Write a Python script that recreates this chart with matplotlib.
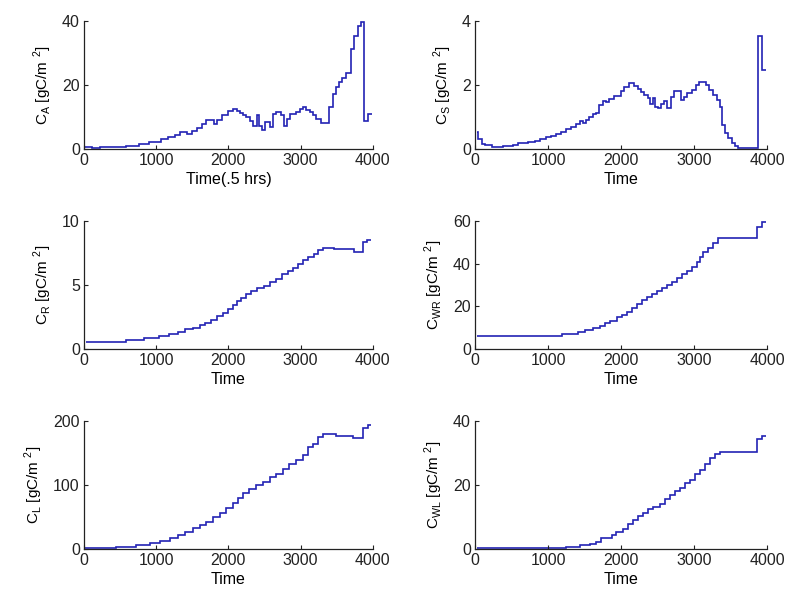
import numpy as np
import matplotlib
matplotlib.use("Agg")
import matplotlib.pyplot as plt

plt.rcParams['font.family'] = ['Liberation Sans', 'DejaVu Sans']
plt.rcParams['mathtext.fontset'] = 'custom'
plt.rcParams['mathtext.rm'] = 'Liberation Sans'

# step data: edges (time) and values between edges
ca_t = [0, 108, 225, 577, 765, 906, 1070, 1164, 1258, 1330, 1420, 1490, 1560, 1630, 1690,
        1800, 1845, 1915, 2000, 2070, 2115, 2160, 2205, 2250, 2300, 2345, 2390, 2420, 2460,
        2505, 2575, 2620, 2665, 2735, 2770, 2815, 2850, 2940, 2986, 3032, 3078, 3124, 3170,
        3215, 3284, 3400, 3445, 3490, 3535, 3580, 3628, 3697, 3743, 3789, 3835, 3881, 3940, 3986]
ca_v = [0.7, 0.2, 0.7, 1.0, 1.5, 2.3, 3.0, 3.6, 4.4, 5.3, 4.8, 5.7, 6.6, 7.9, 9.2,
        7.9, 9.2, 10.5, 12.0, 12.6, 12.0, 11.2, 10.5, 10.0, 8.9, 7.3, 10.5, 7.3, 5.8,
        8.4, 6.8, 11.0, 11.5, 10.5, 7.3, 9.4, 11.0, 11.5, 12.4, 13.0, 12.3, 11.5, 10.5,
        9.4, 8.2, 13.1, 17.3, 19.4, 21.0, 22.2, 23.9, 31.4, 35.4, 38.5, 39.6, 8.6, 11.0]

cs_t = [30, 45, 90, 136, 227, 386, 523, 590, 727, 818, 886, 977, 1045, 1114, 1182, 1250,
        1318, 1386, 1432, 1477, 1523, 1568, 1614, 1660, 1705, 1750, 1795, 1840, 1909, 2000,
        2045, 2114, 2182, 2227, 2273, 2318, 2364, 2395, 2432, 2468, 2500, 2545, 2591, 2636,
        2682, 2727, 2818, 2864, 2909, 2968, 3023, 3068, 3114, 3159, 3205, 3264, 3309, 3355,
        3386, 3423, 3468, 3514, 3559, 3605, 3877, 3932, 3990]
cs_v = [0.53, 0.3, 0.16, 0.13, 0.05, 0.1, 0.13, 0.18, 0.21, 0.26, 0.32, 0.37, 0.42, 0.47,
        0.53, 0.61, 0.68, 0.79, 0.86, 0.82, 0.92, 1.0, 1.1, 1.13, 1.37, 1.5, 1.48, 1.55, 1.67,
        1.81, 1.95, 2.05, 1.98, 1.87, 1.77, 1.69, 1.58, 1.4, 1.58, 1.32, 1.27, 1.4, 1.5, 1.27,
        1.63, 1.81, 1.53, 1.63, 1.74, 1.84, 2.0, 2.1, 2.08, 2.0, 1.84, 1.69, 1.53, 1.3,
        0.75, 0.49, 0.33, 0.18, 0.09, 0.02, 3.54, 2.47]

cr_t = [30, 582, 832, 1036, 1173, 1309, 1400, 1514, 1600, 1680, 1760, 1840, 1920, 2000,
        2060, 2120, 2180, 2240, 2320, 2400, 2490, 2580, 2660, 2740, 2820, 2900, 2960, 3040,
        3100, 3180, 3240, 3309, 3468, 3740, 3870, 3920, 3980]
cr_v = [0.57, 0.68, 0.83, 0.99, 1.2, 1.35, 1.56, 1.62, 1.85, 2.05, 2.3, 2.6, 2.85,
        3.1, 3.4, 3.75, 4.0, 4.3, 4.55, 4.75, 4.95, 5.2, 5.5, 5.85, 6.1, 6.35, 6.65,
        6.95, 7.2, 7.45, 7.7, 7.9, 7.8, 7.6, 8.35, 8.55]

cwr_t = [30, 1187, 1416, 1507, 1621, 1712, 1781, 1850, 1940, 2010, 2078, 2146, 2215, 2283,
         2352, 2420, 2489, 2557, 2626, 2694, 2763, 2831, 2900, 2968, 3037, 3082, 3128, 3196,
         3265, 3333, 3858, 3927, 3982]
cwr_v = [6.25, 7.2, 8.1, 8.9, 9.7, 10.8, 12.0, 13.1, 15.2, 16.0, 17.5, 19.4, 20.9, 23.0,
         24.5, 26.0, 27.2, 28.4, 30.0, 31.6, 33.1, 35.0, 36.6, 38.6, 40.9, 43.3, 45.6,
         47.2, 49.5, 51.9, 57.3, 59.4]

cl_t = [0, 447, 724, 909, 1047, 1186, 1300, 1393, 1509, 1600, 1693, 1785, 1878, 1970, 2062,
        2131, 2200, 2292, 2385, 2477, 2570, 2661, 2754, 2846, 2938, 3030, 3100, 3169, 3238,
        3307, 3491, 3722, 3861, 3930, 3976]
cl_v = [1.5, 3.6, 6.2, 8.8, 13, 17, 21.3, 26, 32.7, 37.4, 42.6, 49.4, 55.6, 63.4, 72.2,
        80, 87.8, 94.5, 99.7, 105, 112.7, 117.9, 125.7, 133.5, 139.7, 146.5, 159.5, 164.7,
        175, 179.2, 177, 174, 189.6, 193.8]

cwl_t = [30, 1250, 1434, 1570, 1663, 1732, 1870, 1938, 2030, 2099, 2168, 2236, 2305, 2373,
         2442, 2534, 2602, 2671, 2740, 2808, 2877, 2946, 3015, 3084, 3152, 3221, 3290, 3358,
         3863, 3932, 3991]
cwl_v = [0.2, 0.6, 1.1, 1.6, 2.3, 3.3, 4.4, 5.4, 6.4, 7.8, 9.0, 10.3, 11.3, 12.4, 13.2,
         14.2, 15.5, 16.8, 18.1, 19.2, 20.5, 21.7, 23.4, 24.8, 26.7, 28.3, 29.6, 30.3,
         34.5, 35.4]

panels = [
    (ca_t, ca_v, r'C$_{\rm A}$ [gC/m $^{\rm 2}$]', 'Time(.5 hrs)', 40, [0, 20, 40]),
    (cs_t, cs_v, r'C$_{\rm S}$ [gC/m $^{\rm 2}$]', 'Time', 4, [0, 2, 4]),
    (cr_t, cr_v, r'C$_{\rm R}$ [gC/m $^{\rm 2}$]', 'Time', 10, [0, 5, 10]),
    (cwr_t, cwr_v, r'C$_{\rm WR}$ [gC/m $^{\rm 2}$]', 'Time', 60, [0, 20, 40, 60]),
    (cl_t, cl_v, r'C$_{\rm L}$ [gC/m $^{\rm 2}$]', 'Time', 200, [0, 100, 200]),
    (cwl_t, cwl_v, r'C$_{\rm WL}$ [gC/m $^{\rm 2}$]', 'Time', 40, [0, 20, 40]),
]

fig = plt.figure(figsize=(7.87, 5.97), dpi=100)
lefts = [0.1067, 0.6036]
bottoms = [0.7504, 0.4154, 0.0804]
w = [0.367, 0.371]
h = 0.2144

for i, (t, v, ylab, xlab, ymax, yt) in enumerate(panels):
    r, c = divmod(i, 2)
    ax = fig.add_axes([lefts[c], bottoms[r], w[c], h])
    ax.stairs(v, t, baseline=None, color='#2222b4', linewidth=1.2)
    ax.set_xlim(0, 4000)
    ax.set_ylim(0, ymax)
    ax.set_xticks([0, 1000, 2000, 3000, 4000])
    ax.set_yticks(yt)
    ax.spines['top'].set_visible(False)
    ax.spines['right'].set_visible(False)
    for s in ['left', 'bottom']:
        ax.spines[s].set_color('#222222')
        ax.spines[s].set_linewidth(0.9)
    ax.tick_params(direction='in', length=3, width=0.8, labelsize=11.5, colors='#222222', pad=3)
    ax.set_ylabel(ylab, fontsize=11, labelpad=6)
    ax.set_xlabel(xlab, fontsize=11.5, labelpad=3)

plt.savefig("out.png", dpi=100)
